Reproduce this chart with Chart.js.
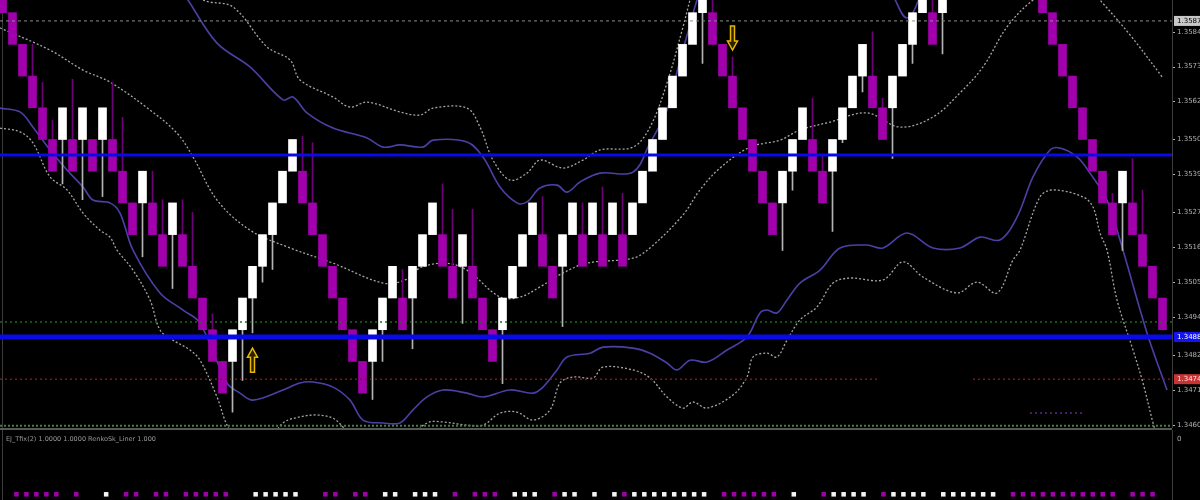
<!DOCTYPE html>
<html><head><meta charset="utf-8">
<script src="https://cdn.jsdelivr.net/npm/chart.js@4.4.1/dist/chart.umd.min.js"></script>
<style>
html,body{margin:0;padding:0;background:#000;width:1200px;height:500px;overflow:hidden;}
#wrap{position:relative;width:1200px;height:500px;background:#000;}
#main{position:absolute;left:0;top:0;}
#sep{position:absolute;left:0;top:428px;width:1172px;height:2px;background:#565a56;}
#sub{position:absolute;left:0;top:430px;}
#ind{position:absolute;left:6px;top:435px;font:6.5px "DejaVu Sans";color:#9a9a9a;white-space:nowrap;}
</style></head>
<body><div id="wrap">
<canvas id="main" width="1200" height="428"></canvas>
<div id="sep"></div>
<canvas id="sub" width="1200" height="70"></canvas>
<div id="ind">EJ_Tfix(2) 1.0000 1.0000 RenkoSk_Liner 1.000</div>
</div>
<script>
// ---------------- DATA ----------------
const candleIndex = [0,1,2,3,4,5,6,7,8,9,10,11,12,13,14,15,16,17,18,19,20,21,22,23,24,25,26,27,28,29,30,31,32,33,34,35,36,37,38,39,40,41,42,43,44,45,46,47,48,49,50,51,52,53,54,55,56,57,58,59,60,61,62,63,64,65,66,67,68,69,70,71,72,73,74,75,76,77,78,79,80,81,82,83,84,85,86,87,88,89,90,91,92,93,94,104,105,106,107,108,109,110,111,112,113,114,115,116];
const openPrice = [1.3600,1.3590,1.3580,1.3570,1.3560,1.3550,1.3550,1.3550,1.3550,1.3550,
 1.3550,1.3550,1.3540,1.3530,1.3530,1.3530,1.3520,1.3520,1.3520,1.3510,
 1.3500,1.3490,1.3480,1.3480,1.3490,1.3500,1.3510,1.3520,1.3530,1.3540,
 1.3540,1.3530,1.3520,1.3510,1.3500,1.3490,1.3480,1.3480,1.3490,1.3500,
 1.3500,1.3500,1.3510,1.3520,1.3520,1.3510,1.3510,1.3510,1.3500,1.3490,
 1.3490,1.3500,1.3510,1.3520,1.3520,1.3510,1.3510,1.3520,1.3520,1.3520,
 1.3520,1.3520,1.3520,1.3520,1.3530,1.3540,1.3550,1.3560,1.3570,1.3580,
 1.3590,1.3590,1.3580,1.3570,1.3560,1.3550,1.3540,1.3530,1.3530,1.3540,
 1.3550,1.3550,1.3540,1.3540,1.3550,1.3560,1.3570,1.3570,1.3560,1.3560,
 1.3570,1.3580,1.3590,1.3590,1.3590,
 1.3600,1.3590,1.3580,1.3570,1.3560,1.3550,1.3540,1.3530,1.3530,1.3530,1.3520,1.3510,1.3500];
const closePrice = [1.3590,1.3580,1.3570,1.3560,1.3550,1.3540,1.3560,1.3540,1.3560,1.3540,
 1.3560,1.3540,1.3530,1.3520,1.3540,1.3520,1.3510,1.3530,1.3510,1.3500,
 1.3490,1.3480,1.3470,1.3490,1.3500,1.3510,1.3520,1.3530,1.3540,1.3550,
 1.3530,1.3520,1.3510,1.3500,1.3490,1.3480,1.3470,1.3490,1.3500,1.3510,
 1.3490,1.3510,1.3520,1.3530,1.3510,1.3500,1.3520,1.3500,1.3490,1.3480,
 1.3500,1.3510,1.3520,1.3530,1.3510,1.3500,1.3520,1.3530,1.3510,1.3530,
 1.3510,1.3530,1.3510,1.3530,1.3540,1.3550,1.3560,1.3570,1.3580,1.3590,
 1.3600,1.3580,1.3570,1.3560,1.3550,1.3540,1.3530,1.3520,1.3540,1.3550,
 1.3560,1.3540,1.3530,1.3550,1.3560,1.3570,1.3580,1.3560,1.3550,1.3570,
 1.3580,1.3590,1.3600,1.3580,1.3600,
 1.3590,1.3580,1.3570,1.3560,1.3550,1.3540,1.3530,1.3520,1.3540,1.3520,1.3510,1.3500,1.3490];
const wickPrice = [null,null,null,1.3580,1.3568,1.3556,1.3536,1.3569,1.3531,null,
 1.3532,1.3568,1.3557,null,1.3513,1.3540,1.3531,1.3503,1.3531,1.3527,
 null,1.3495,null,1.3464,1.3474,1.3489,1.3505,1.3509,null,null,
 1.3551,1.3549,null,null,null,null,null,1.3468,1.3480,null,
 1.3509,1.3484,null,null,1.3536,1.3528,1.3492,1.3528,null,null,
 1.3473,null,null,null,1.3532,null,1.3491,null,1.3530,null,
 1.3535,null,1.3533,null,null,null,null,null,null,null,
 1.3574,1.3600,null,1.3576,null,null,null,null,1.3515,1.3534,
 null,1.3563,1.3545,1.3521,1.3549,null,1.3565,1.3584,1.3563,1.3544,
 null,1.3574,null,1.3600,1.3577,
 null,null,null,1.3568,1.3557,null,null,1.3533,1.3515,1.3544,1.3534,null,null];

// Bollinger style bands: [bar index, price]
const midBand = [[-0.25,1.35852],[4.75,1.35782],[8.05,1.35719],[10.75,1.35681],[14.75,1.35593],[17.45,1.35520],[19.05,1.35445],[21.45,1.35309],[24.75,1.35214],[28.75,1.35158],[33.05,1.35110],[38.05,1.35047],[40.25,1.35057],[41.75,1.35095],[44.25,1.35110],[46.45,1.35088],[49.75,1.35003],[51.75,1.35003],[53.75,1.35035],[56.05,1.35079],[58.45,1.35110],[63.05,1.35126],[64.75,1.35158],[68.05,1.35262],[69.75,1.35341],[71.75,1.35410],[74.75,1.35476],[77.75,1.35498],[79.75,1.35530],[82.75,1.35555],[86.45,1.35584],[89.75,1.35539],[93.05,1.35571],[95.75,1.35647],[98.05,1.35729],[100.45,1.35855],[103.05,1.35940],[105.75,1.35990],[108.75,1.35975],[109.75,1.35940],[112.75,1.35830],[116.05,1.35694]];
const upperBand = [[17.25,1.36003],[18.55,1.35940],[21.45,1.35804],[24.75,1.35729],[28.05,1.35625],[29.05,1.35634],[30.45,1.35584],[33.05,1.35536],[36.45,1.35505],[38.05,1.35476],[39.75,1.35483],[42.05,1.35476],[43.05,1.35498],[46.45,1.35492],[48.05,1.35445],[49.75,1.35350],[51.45,1.35300],[52.45,1.35303],[53.75,1.35347],[55.45,1.35356],[56.45,1.35334],[57.75,1.35366],[59.75,1.35394],[63.05,1.35397],[64.75,1.35489],[66.45,1.35593],[67.75,1.35751],[68.75,1.35861],[69.45,1.35940],[70.25,1.36003],[79.75,1.36130],[88.25,1.35987],[90.45,1.35883],[92.25,1.35987]];
const upperOuter = [[18.75,1.35987],[20.05,1.35940],[23.05,1.35918],[26.45,1.35792],[28.75,1.35751],[29.75,1.35688],[33.05,1.35634],[34.75,1.35602],[36.45,1.35618],[39.75,1.35587],[41.75,1.35577],[43.05,1.35599],[46.45,1.35599],[47.75,1.35539],[49.05,1.35435],[50.75,1.35372],[52.45,1.35394],[53.75,1.35435],[56.05,1.35410],[58.05,1.35435],[59.75,1.35467],[63.05,1.35476],[64.75,1.35539],[66.45,1.35678],[68.05,1.35855],[68.75,1.35940],[69.45,1.36019]];
const lowerBand = [[-0.25,1.35599],[1.75,1.35587],[3.05,1.35539],[4.75,1.35467],[6.45,1.35404],[8.05,1.35350],[9.05,1.35309],[10.75,1.35300],[11.75,1.35268],[13.05,1.35151],[15.75,1.35016],[18.05,1.34962],[19.75,1.34921],[22.45,1.34732],[23.75,1.34700],[25.05,1.34678],[28.05,1.34710],[29.75,1.34732],[31.05,1.34735],[33.05,1.34719],[34.75,1.34678],[36.05,1.34615],[38.05,1.34606],[39.75,1.34606],[41.05,1.34647],[42.45,1.34688],[44.05,1.34710],[46.45,1.34700],[48.05,1.34688],[50.75,1.34710],[53.05,1.34700],[54.05,1.34719],[55.45,1.34773],[56.45,1.34814],[58.75,1.34826],[60.05,1.34845],[63.05,1.34842],[64.75,1.34826],[66.45,1.34795],[67.45,1.34773],[68.75,1.34804],[70.45,1.34798],[72.45,1.34836],[74.45,1.34877],[75.75,1.34953],[76.45,1.34962],[77.45,1.34953],[78.45,1.34994],[79.75,1.35047],[81.75,1.35088],[83.75,1.35158],[86.45,1.35167],[88.05,1.35158],[90.45,1.35205],[93.05,1.35158],[95.75,1.35158],[97.75,1.35192],[99.75,1.35183],[101.45,1.35255],[103.05,1.35382],[104.75,1.35467],[105.75,1.35473],[107.45,1.35445],[108.75,1.35394],[110.45,1.35309],[111.75,1.35183],[114.45,1.34890],[116.45,1.34710]];
const lowerOuter = [[-0.25,1.35536],[1.75,1.35524],[3.05,1.35489],[4.75,1.35382],[6.45,1.35341],[8.05,1.35268],[9.75,1.35214],[10.75,1.35192],[11.45,1.35151],[13.05,1.35088],[14.75,1.34994],[15.75,1.34899],[17.05,1.34867],[18.75,1.34836],[19.75,1.34804],[21.45,1.34688],[22.45,1.34599],[23.75,1.34536],[26.25,1.34536],[28.05,1.34606],[29.75,1.34625],[31.45,1.34631],[33.05,1.34621],[34.05,1.34593],[35.75,1.34536],[39.75,1.34536],[42.45,1.34606],[44.05,1.34609],[46.45,1.34599],[48.05,1.34599],[49.75,1.34637],[51.45,1.34640],[53.05,1.34615],[54.75,1.34647],[55.75,1.34732],[57.05,1.34751],[59.05,1.34748],[60.05,1.34782],[63.05,1.34773],[64.75,1.34748],[66.45,1.34688],[68.05,1.34653],[69.05,1.34672],[70.45,1.34653],[73.05,1.34694],[74.45,1.34751],[75.05,1.34814],[76.45,1.34826],[77.45,1.34814],[78.45,1.34867],[79.75,1.34931],[81.45,1.34972],[83.05,1.35047],[84.75,1.35063],[88.05,1.35057],[90.05,1.35114],[92.05,1.35066],[95.45,1.35016],[97.45,1.35050],[99.45,1.35016],[101.05,1.35120],[101.75,1.35151],[103.75,1.35319],[105.05,1.35341],[108.05,1.35319],[109.05,1.35287],[109.75,1.35205],[110.45,1.35151],[111.45,1.34994],[113.05,1.34836],[114.05,1.34732],[115.05,1.34606],[115.55,1.34552]];

// horizontal levels
const levelCurrent = 1.35874;
const levelBlueUpper = 1.35451;
const levelBlueLower = 1.34877;
const levelGreen = 1.34924;
const levelRed = 1.34744;
const levelRedGap = [87.75, 97.05];
const levelBottom = 1.34597;
const levelPurple = 1.34637;
const levelPurpleRange = [102.75, 108.25];

// price axis labels
const yTickLabels = ["1.3584","1.3573","1.3562","1.3550","1.3539","1.3527","1.3516","1.3505","1.3494","1.3482","1.3471","1.3460"];
const boxPrices = [1.35874, 1.34877, 1.34744];
const boxTexts = ["1.3587","1.3488","1.3474"];
const subTickLabels = ["0"];

// signal arrows
const arrowIdx = [25, 73];
const arrowPrice = [1.34804, 1.35820];
const arrowDir = ["up", "down"];

// sub-window colour markers
const markerBear = [1,2,3,4,5,7,12,13,15,16,18,19,20,21,22,32,33,35,36,45,47,48,49,55,62,72,73,74,75,76,77,82,88,101,102,103,104,105,106,107,108,109,110,111,113,114,115];
const markerBull = [10,25,26,27,28,29,38,39,41,42,43,51,52,53,56,57,59,61,63,64,65,66,67,68,69,70,79,83,84,85,86,89,90,91,92,94,95,96,97,98,99];

// ---------------- BUILD ----------------
const X_MIN = -0.25, X_MAX = 116.95;
const Y_MAX = 1.35940, Y_MIN = 1.34590;
const BULL = '#ffffff', BEAR = '#a200ad';
const isBull = candleIndex.map((_, k) => closePrice[k] > openPrice[k]);
const bodyData = candleIndex.map((x, k) => ({x, y: [openPrice[k], closePrice[k]]}));
const bodyColors = isBull.map(b => b ? BULL : BEAR);
const wickData = [], wickColors = [];
candleIndex.forEach((x, k) => {
  if (wickPrice[k] != null) {
    wickData.push({x, y: [openPrice[k], wickPrice[k]]});
    wickColors.push(isBull[k] ? '#b4b4b4' : '#6e0078');
  }
});
const toXY = a => a.map(([x, y]) => ({x, y}));
const hline = (v, x0 = X_MIN, x1 = X_MAX) => [{x: x0, y: v}, {x: x1, y: v}];

const bandDs = (data, color, dash, w) => ({
  type: 'line', data: toXY(data), borderColor: color, borderWidth: w, borderDash: dash,
  pointRadius: 0, tension: 0.35, fill: false, order: 6
});
const levelDs = (data, color, dash, w, order) => ({
  type: 'line', data, borderColor: color, borderWidth: w, borderDash: dash,
  pointRadius: 0, tension: 0, fill: false, spanGaps: false, order: order
});

const mainDecor = {
  id: 'mainDecor',
  beforeDatasetsDraw(chart) {
    const ctx = chart.ctx;
    ctx.save();
    ctx.strokeStyle = '#3a3a3a'; ctx.lineWidth = 1;
    ctx.beginPath(); ctx.moveTo(2.5, 0); ctx.lineTo(2.5, chart.height); ctx.stroke();
    ctx.restore();
  },
  afterDatasetsDraw(chart) {
    const ctx = chart.ctx, xs = chart.scales.x, ys = chart.scales.y;
    ctx.save();
    arrowIdx.forEach((ix, k) => {
      const cx = xs.getPixelForValue(ix), cy = ys.getPixelForValue(arrowPrice[k]);
      const s = arrowDir[k] === 'up' ? -1 : 1;
      const h = 24, hw = 5, sw = 2, head = 9;
      const tipY = cy + s * h / 2, baseY = cy - s * h / 2, neck = tipY - s * head;
      ctx.beginPath();
      ctx.moveTo(cx, tipY);
      ctx.lineTo(cx + hw, neck); ctx.lineTo(cx + sw, neck); ctx.lineTo(cx + sw, baseY);
      ctx.lineTo(cx - sw, baseY); ctx.lineTo(cx - sw, neck); ctx.lineTo(cx - hw, neck);
      ctx.closePath();
      ctx.fillStyle = '#2b2300'; ctx.fill();
      ctx.strokeStyle = '#e8b800'; ctx.lineWidth = 1.5; ctx.stroke();
    });
    ctx.restore();
  },
  afterDraw(chart) {
    const ctx = chart.ctx, ys = chart.scales.y, ca = chart.chartArea;
    ctx.save();
    ctx.fillStyle = '#000';
    ctx.fillRect(ca.right, 0, chart.width - ca.right, chart.height);
    ctx.strokeStyle = '#3c3c3c'; ctx.lineWidth = 1;
    ctx.beginPath(); ctx.moveTo(ca.right + 0.5, 0); ctx.lineTo(ca.right + 0.5, chart.height); ctx.stroke();
    ctx.font = '7px "DejaVu Sans"'; ctx.textBaseline = 'middle'; ctx.textAlign = 'left';
    ctx.fillStyle = '#b0b0b0';
    yTickLabels.forEach(t => {
      const y = ys.getPixelForValue(parseFloat(t));
      ctx.fillRect(ca.right + 1, Math.round(y), 2, 1);
      ctx.fillText(t, ca.right + 5, y);
    });
    const boxBg = ['#c8c8c8', '#1414ee', '#c83434'];
    const boxFg = ['#000000', '#ffffff', '#ffe0e0'];
    boxPrices.forEach((p, k) => {
      const y = ys.getPixelForValue(p);
      ctx.fillStyle = boxBg[k];
      ctx.fillRect(ca.right + 2, y - 5, chart.width - ca.right - 2, 10);
      ctx.fillStyle = boxFg[k];
      ctx.fillText(boxTexts[k], ca.right + 5, y + 0.5);
    });
    ctx.restore();
  }
};

new Chart(document.getElementById('main'), {
  type: 'bar',
  data: {
    datasets: [
      {type: 'bar', data: bodyData, backgroundColor: bodyColors, borderWidth: 0, barThickness: 8, grouped: false, order: 1},
      {type: 'bar', data: wickData, backgroundColor: wickColors, borderWidth: 0, barThickness: 1, grouped: false, order: 2},
      bandDs(midBand, '#a6a6a6', [2, 2], 1.3),
      bandDs(upperOuter, '#a6a6a6', [2, 2], 1.3),
      bandDs(lowerOuter, '#a6a6a6', [2, 2], 1.3),
      bandDs(upperBand, '#4a40a6', [], 1.6),
      bandDs(lowerBand, '#4a40a6', [], 1.6),
      levelDs(hline(levelCurrent), '#8c8c8c', [3, 3], 1, 0),
      levelDs(hline(levelGreen), '#1d6a1d', [2, 3], 1.5, 0),
      levelDs([{x: X_MIN, y: levelRed}, {x: levelRedGap[0], y: levelRed}, {x: levelRedGap[0] + 0.1, y: null}, {x: levelRedGap[1], y: levelRed}, {x: X_MAX, y: levelRed}], '#7e1616', [2, 3], 1.5, 0),
      levelDs(hline(levelBottom), '#4a7a4a', [2, 2], 2, 0),
      levelDs(hline(levelPurple, levelPurpleRange[0], levelPurpleRange[1]), '#5a2a8a', [2, 3], 1.5, 0),
      levelDs(hline(levelBlueUpper), '#0a0ae8', [], 3, 0),
      levelDs(hline(levelBlueLower), '#0a0ae8', [], 5, 0)
    ]
  },
  options: {
    responsive: false, animation: false, devicePixelRatio: 1, events: [],
    layout: {padding: {left: 0, right: 28, top: 0, bottom: 0}},
    plugins: {legend: {display: false}, tooltip: {enabled: false}},
    scales: {
      x: {type: 'linear', min: X_MIN, max: X_MAX, display: false, offset: false},
      y: {type: 'linear', min: Y_MIN, max: Y_MAX, display: false}
    }
  },
  plugins: [mainDecor]
});

const subDecor = {
  id: 'subDecor',
  afterDraw(chart) {
    const ctx = chart.ctx, ys = chart.scales.y, ca = chart.chartArea;
    ctx.save();
    ctx.strokeStyle = '#3c3c3c'; ctx.lineWidth = 1;
    ctx.beginPath(); ctx.moveTo(ca.right + 0.5, 0); ctx.lineTo(ca.right + 0.5, chart.height); ctx.stroke();
    ctx.beginPath(); ctx.moveTo(2.5, 0); ctx.lineTo(2.5, chart.height); ctx.stroke();
    ctx.font = '7px "DejaVu Sans"'; ctx.textBaseline = 'middle'; ctx.fillStyle = '#b0b0b0';
    subTickLabels.forEach(t => ctx.fillText(t, ca.right + 5, ys.getPixelForValue(parseFloat(t))));
    ctx.restore();
  }
};

new Chart(document.getElementById('sub'), {
  type: 'scatter',
  data: {
    datasets: [
      {data: markerBear.map(x => ({x, y: -9.7})), pointStyle: 'rect', pointRadius: 3.2, backgroundColor: BEAR, borderWidth: 0, clip: false},
      {data: markerBull.map(x => ({x, y: -9.7})), pointStyle: 'rect', pointRadius: 3.2, backgroundColor: '#f4f4f4', borderWidth: 0, clip: false}
    ]
  },
  options: {
    responsive: false, animation: false, devicePixelRatio: 1, events: [],
    layout: {padding: {left: 0, right: 28, top: 0, bottom: 0}},
    plugins: {legend: {display: false}, tooltip: {enabled: false}},
    scales: {
      x: {type: 'linear', min: X_MIN, max: X_MAX, display: false},
      y: {type: 'linear', min: -10, max: 1, display: false}
    }
  },
  plugins: [subDecor]
});
</script>
</body></html>
